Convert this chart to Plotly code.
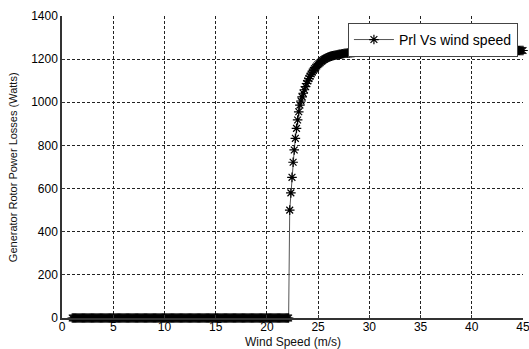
import numpy as np
import plotly.graph_objects as go

# Wind speed sampling grid (m/s): 401 samples from 1 to 45
X_START = 1.0
X_STOP = 45.0

# Generator rotor power losses (W)
prl_watts = [
    0, 0, 0, 0, 0, 0, 0, 0, 0, 0,
    0, 0, 0, 0, 0, 0, 0, 0, 0, 0,
    0, 0, 0, 0, 0, 0, 0, 0, 0, 0,
    0, 0, 0, 0, 0, 0, 0, 0, 0, 0,
    0, 0, 0, 0, 0, 0, 0, 0, 0, 0,
    0, 0, 0, 0, 0, 0, 0, 0, 0, 0,
    0, 0, 0, 0, 0, 0, 0, 0, 0, 0,
    0, 0, 0, 0, 0, 0, 0, 0, 0, 0,
    0, 0, 0, 0, 0, 0, 0, 0, 0, 0,
    0, 0, 0, 0, 0, 0, 0, 0, 0, 0,
    0, 0, 0, 0, 0, 0, 0, 0, 0, 0,
    0, 0, 0, 0, 0, 0, 0, 0, 0, 0,
    0, 0, 0, 0, 0, 0, 0, 0, 0, 0,
    0, 0, 0, 0, 0, 0, 0, 0, 0, 0,
    0, 0, 0, 0, 0, 0, 0, 0, 0, 0,
    0, 0, 0, 0, 0, 0, 0, 0, 0, 0,
    0, 0, 0, 0, 0, 0, 0, 0, 0, 0,
    0, 0, 0, 0, 0, 0, 0, 0, 0, 0,
    0, 0, 0, 0, 0, 0, 0, 0, 0, 0,
    0, 0, 0,
    500, 580, 652, 722, 779, 833, 879, 918, 956, 987,
    1006, 1025, 1042, 1058, 1073, 1087, 1099, 1110, 1121, 1131,
    1140, 1148, 1155, 1162, 1168, 1174, 1179, 1184, 1189, 1193,
    1197, 1200, 1203, 1206, 1209, 1211, 1213, 1214, 1216, 1217,
    1218, 1219, 1220, 1221, 1222, 1223, 1224, 1225, 1226, 1227,
    1227, 1228, 1229, 1229, 1230, 1230, 1231, 1231, 1232, 1233,
    1233, 1234, 1234,
    1235, 1235, 1235, 1235, 1235,
    1236, 1236, 1236, 1236, 1236, 1236, 1236, 1236, 1236, 1236,
    1237, 1237, 1237, 1237, 1237, 1237, 1237, 1237, 1237, 1237,
    1237, 1237, 1237, 1237, 1237,
    1238, 1238, 1238, 1238, 1238, 1238, 1238, 1238, 1238, 1238,
    1238, 1238, 1238, 1238, 1238, 1238, 1238, 1238, 1238, 1238,
    1239, 1239, 1239, 1239, 1239, 1239, 1239, 1239, 1239, 1239,
    1239, 1239, 1239, 1239, 1239, 1239, 1239, 1239, 1239, 1239,
    1239, 1239, 1239, 1239, 1239, 1239, 1239, 1239, 1239, 1239,
    1239, 1239, 1239, 1239, 1239,
    1240, 1240, 1240, 1240, 1240, 1240, 1240, 1240, 1240, 1240,
    1240, 1240, 1240, 1240, 1240, 1240, 1240, 1240, 1240, 1240,
    1240, 1240, 1240, 1240, 1240, 1240, 1240, 1240, 1240, 1240,
    1240, 1240, 1240, 1240, 1240, 1240, 1240, 1240, 1240, 1240,
    1240, 1240, 1240, 1240, 1240, 1240, 1240, 1240, 1240, 1240,
    1240, 1240, 1240, 1240, 1240, 1240, 1240, 1240, 1240, 1240,
]
wind_speed = np.linspace(X_START, X_STOP, len(prl_watts))

x_ticks = [0, 5, 10, 15, 20, 25, 30, 35, 40, 45]
y_ticks = [0, 200, 400, 600, 800, 1000, 1200, 1400]

series_name = "Prl Vs wind speed"
x_title = "Wind Speed (m/s)"
y_title = "Generator Rotor Power Losses (Watts)"

fig = go.Figure()
fig.add_trace(go.Scatter(
    x=wind_speed, y=prl_watts, mode="lines+markers", name=series_name,
    line=dict(color="#555555", width=1),
    marker=dict(symbol="asterisk-open", size=8, color="black",
                line=dict(color="black", width=1.2)),
    cliponaxis=False,
))

font_family = "Liberation Sans, Arial, sans-serif"
fig.update_layout(
    width=529, height=349,
    margin=dict(l=62, r=6, t=16, b=31, autoexpand=False),
    paper_bgcolor="white", plot_bgcolor="white",
    font=dict(family=font_family, size=12, color="black"),
    showlegend=True,
    legend=dict(x=0.989, y=0.977, xanchor="right", yanchor="top",
                bordercolor="#444444", borderwidth=1, bgcolor="white",
                font=dict(size=14, color="black"),
                itemwidth=40, tracegroupgap=0),
    annotations=[
        dict(text=x_title, xref="paper", yref="paper", x=0.5, y=-0.081,
             xanchor="center", yanchor="middle", showarrow=False,
             borderpad=0, font=dict(size=12, color="#111111")),
        dict(text=y_title, xref="paper", yref="paper", x=-0.106, y=0.5,
             xanchor="center", yanchor="middle", textangle=-90,
             showarrow=False, font=dict(size=11, color="#111111")),
    ],
)
grid_style = dict(showgrid=True, gridcolor="#222222", gridwidth=1,
                  griddash="3px,2px", zeroline=False,
                  showline=True, linecolor="#333333", linewidth=1.5,
                  mirror=False, ticks="inside", ticklen=3,
                  tickcolor="#333333", automargin=False,
                  ticklabeloverflow="allow")
fig.update_xaxes(range=[0, 45], tickvals=x_ticks,
                 tickfont=dict(size=12), ticklabelstandoff=-3, **grid_style)
fig.update_yaxes(range=[0, 1400], tickvals=y_ticks,
                 tickfont=dict(size=12), **grid_style)

fig.write_html(
    "out.html",
    config={"displayModeBar": False},
    post_script="document.body.style.margin='0';document.body.style.overflow='hidden';",
)
